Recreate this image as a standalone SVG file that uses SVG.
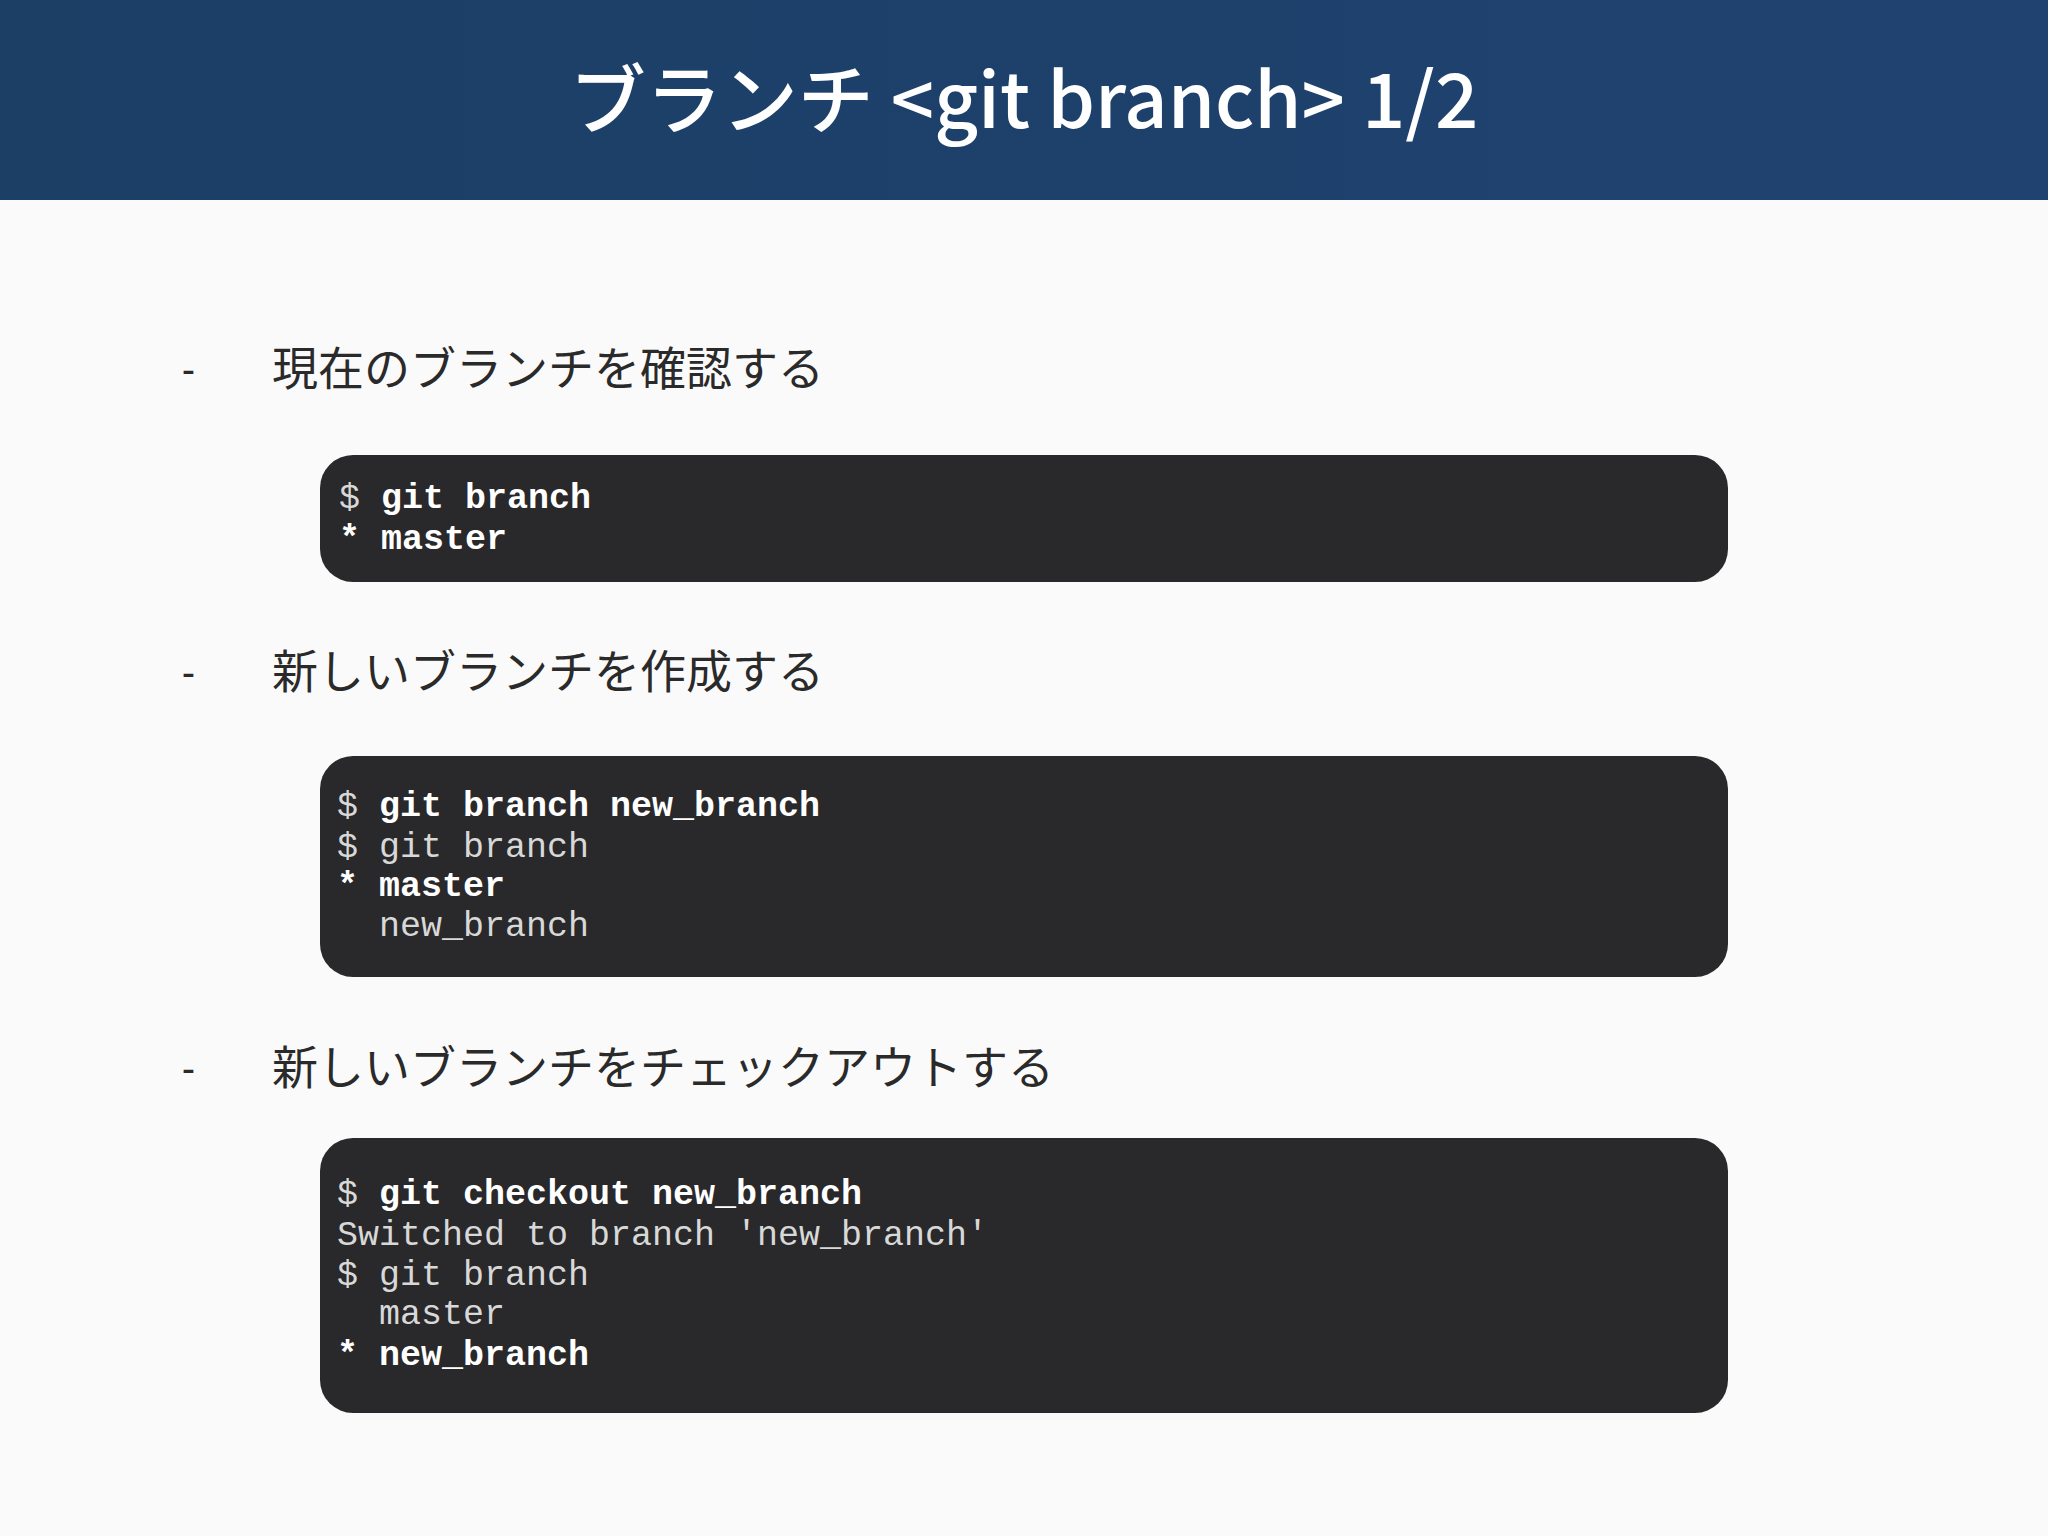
<svg xmlns="http://www.w3.org/2000/svg" width="2048" height="1536" viewBox="0 0 2048 1536">
<defs>
<linearGradient id="hg" x1="0" y1="0" x2="1" y2="0"><stop offset="0" stop-color="#1c3f66"/><stop offset="1" stop-color="#1f4270"/></linearGradient>
<style>
.t{font-family:"Noto Sans CJK JP","Noto Sans",sans-serif;font-size:46px;fill:#2a2a2a}
.d{font-family:"Noto Sans",sans-serif;font-size:40px;fill:#2a2a2a}
.box{fill:#29282a}
.m{font-family:"Liberation Mono","Courier New",monospace;font-size:35px;fill:#d8d8d8;white-space:pre}
.b{font-weight:bold;fill:#fff}
</style>
</defs>
<rect width="2048" height="1536" fill="#fbfafb"/>
<rect width="2048" height="200" fill="url(#hg)"/>
<text x="1024" y="128" text-anchor="middle" font-family="'Noto Sans CJK JP','Noto Sans',sans-serif" font-size="76" font-weight="500" fill="#fff">ブランチ &lt;git branch&gt; 1/2</text>
<g id="item1">
<text class="d" x="182" y="383">-</text>
<text class="t" x="272" y="385">現在のブランチを確認する</text>
</g>
<g id="box1">
<rect class="box" x="320" y="455" width="1408" height="127" rx="33"/>
<text class="m" x="339" y="508">$ <tspan class="b">git branch</tspan></text>
<text class="m b" x="339" y="549">* master</text>
</g>
<g id="item2">
<text class="d" x="182" y="686">-</text>
<text class="t" x="272" y="688">新しいブランチを作成する</text>
</g>
<g id="box2">
<rect class="box" x="320" y="756" width="1408" height="221" rx="33"/>
<text class="m" x="337" y="816">$ <tspan class="b">git branch new_branch</tspan></text>
<text class="m" x="337" y="857">$ git branch</text>
<text class="m b" x="337" y="896">* master</text>
<text class="m" x="337" y="936">  new_branch</text>
</g>
<g id="item3">
<text class="d" x="182" y="1082">-</text>
<text class="t" x="272" y="1084">新しいブランチをチェックアウトする</text>
</g>
<g id="box3">
<rect class="box" x="320" y="1138" width="1408" height="275" rx="33"/>
<text class="m" x="337" y="1204">$ <tspan class="b">git checkout new_branch</tspan></text>
<text class="m" x="337" y="1245">Switched to branch 'new_branch'</text>
<text class="m" x="337" y="1285">$ git branch</text>
<text class="m" x="337" y="1324">  master</text>
<text class="m b" x="337" y="1365">* new_branch</text>
</g>
<g id="connectors"/>
</svg>
